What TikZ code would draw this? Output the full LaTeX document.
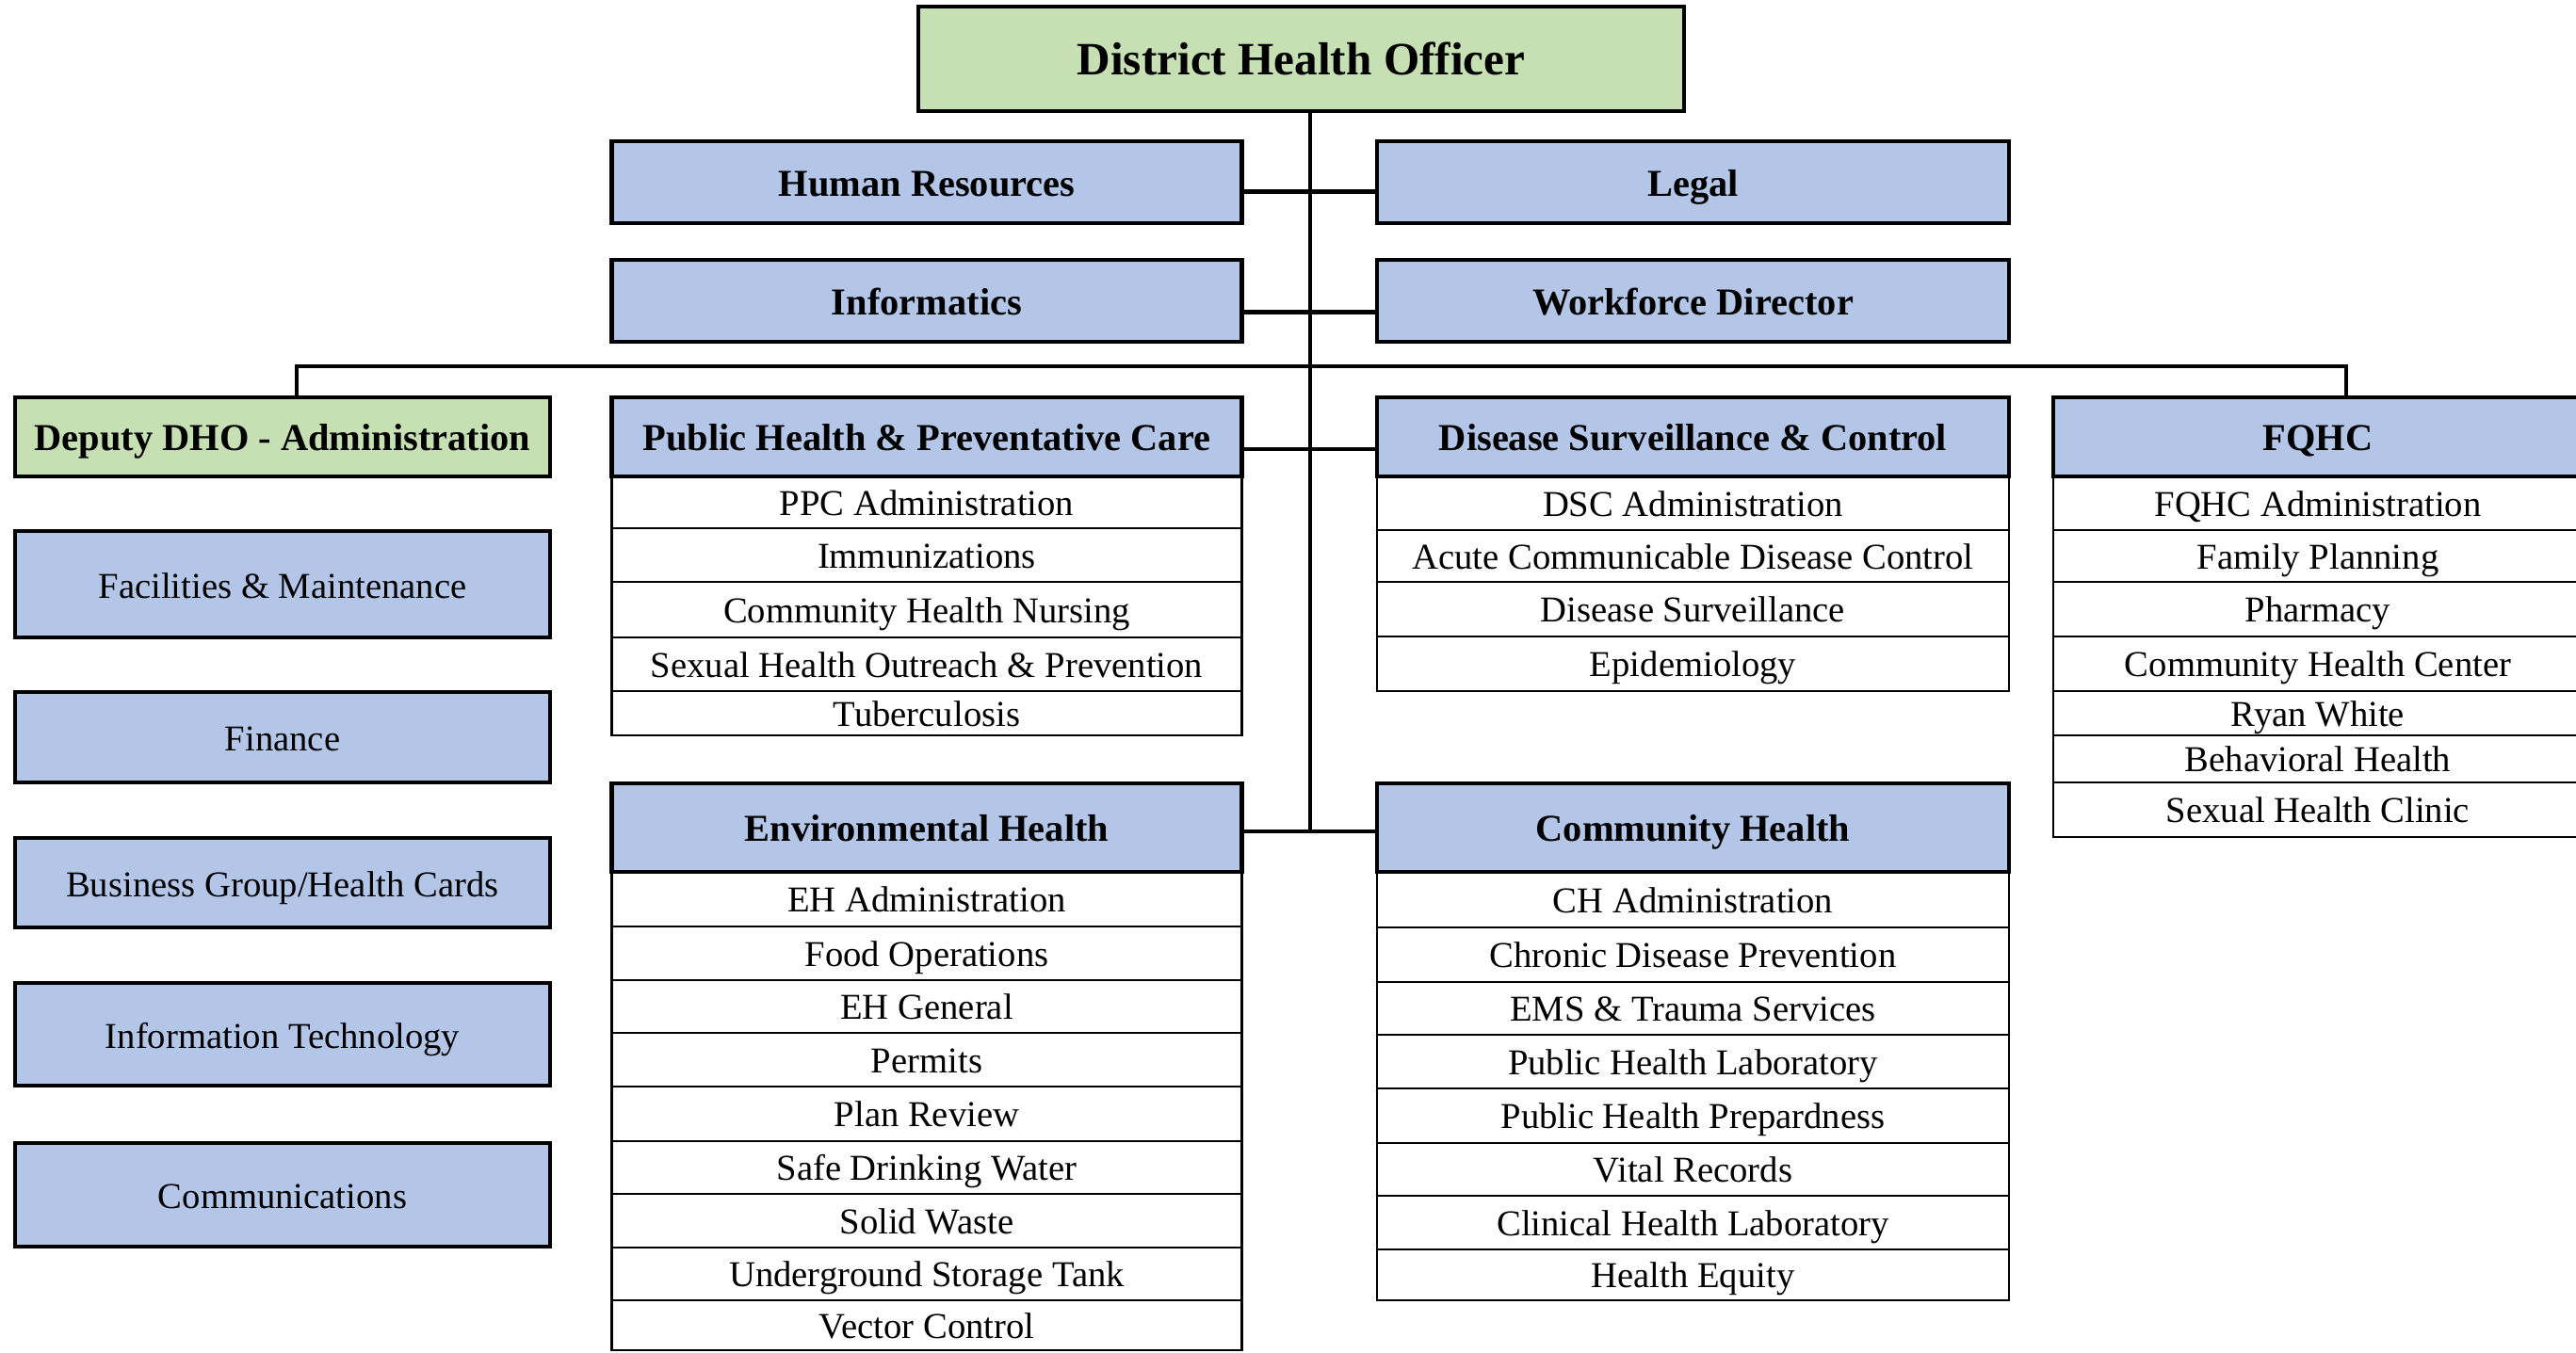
\documentclass[tikz,border=0pt]{standalone}
\usepackage{fontspec}
\setmainfont{Liberation Serif}
\usetikzlibrary{positioning}
\definecolor{boxblue}{RGB}{180,198,231}
\definecolor{boxgreen}{RGB}{198,224,180}
\tikzset{
  unit/.style={draw, line width=1.4pt, fill=boxblue, inner sep=0pt, outer sep=0pt,
    text height=0.85em, text depth=0pt, font=\fontsize{11}{13}\selectfont},
  head/.style={unit, font=\bfseries\fontsize{11.5}{13}\selectfont},
  row/.style={draw, line width=0.6pt, inner sep=0pt, outer sep=0pt,
    text height=0.78em, text depth=0pt, font=\fontsize{11}{13}\selectfont},
  link/.style={line width=1.2pt}
}

\begin{document}
\begin{tikzpicture}
        \useasboundingbox (0,0) rectangle (27.35,-14.37);
        % top of the chart
        \node[head, fill=boxgreen, minimum width=8.13cm, minimum height=1.11cm, text height=0.95em,
          font=\bfseries\fontsize{14}{16}\selectfont] (dho) at (13.815,-0.625) {District Health Officer};
        \node[head, minimum width=6.69cm, minimum height=0.87cm] (hr) at (9.84,-1.935) {Human Resources};
        \node[head, minimum width=6.71cm, minimum height=0.87cm] (legal) at (17.975,-1.935) {Legal};
        \node[head, minimum width=6.69cm, minimum height=0.87cm] (inf) at (9.84,-3.195) {Informatics};
        \node[head, minimum width=6.71cm, minimum height=0.87cm] (wfd) at (17.975,-3.195) {Workforce Director};
        % divisions
        \node[head, fill=boxgreen, minimum width=5.68cm, minimum height=0.84cm] (dep) at (3.00,-4.64) {Deputy DHO - Administration};
        \node[head, minimum width=6.69cm, minimum height=0.84cm, alias=ph0] (ph) at (9.84,-4.64) {Public Health \& Preventative Care};
        \node[head, minimum width=6.71cm, minimum height=0.84cm, alias=dsc0] (dsc) at (17.975,-4.64) {Disease Surveillance \& Control};
        \node[head, minimum width=5.62cm, minimum height=0.84cm, alias=fq0] (fq) at (24.61,-4.64) {FQHC};
        \node[head, minimum width=6.69cm, minimum height=0.94cm, alias=eh0] (eh) at (9.84,-8.79) {Environmental Health};
        \node[head, minimum width=6.71cm, minimum height=0.94cm, alias=ch0] (ch) at (17.975,-8.79) {Community Health};
        % administration column
        \node[unit, minimum width=5.68cm, minimum height=1.13cm] (fac) at (3.00,-6.205) {Facilities \& Maintenance};
        \node[unit, minimum width=5.68cm, minimum height=0.96cm] (fin) at (3.00,-7.83) {Finance};
        \node[unit, minimum width=5.68cm, minimum height=0.95cm] (bus) at (3.00,-9.375) {Business Group/Health Cards};
        \node[unit, minimum width=5.68cm, minimum height=1.09cm] (it) at (3.00,-10.985) {Information Technology};
        \node[unit, minimum width=5.68cm, minimum height=1.10cm] (com) at (3.00,-12.69) {Communications};
        % programs under each division
        \foreach \t/\h [count=\i, remember=\i as \j (initially 0)] in {PPC Administration/0.55,
            Immunizations/0.57, Community Health Nursing/0.59,
            Sexual Health Outreach \& Prevention/0.57, Tuberculosis/0.47}
          \node[row, minimum width=6.69cm, minimum height=\h cm, below=0pt of ph\j] (ph\i) {\t};
        \foreach \t/\h [count=\i, remember=\i as \j (initially 0)] in {DSC Administration/0.57,
            Acute Communicable Disease Control/0.55, Disease Surveillance/0.58, Epidemiology/0.58}
          \node[row, minimum width=6.71cm, minimum height=\h cm, below=0pt of dsc\j] (dsc\i) {\t};
        \foreach \t/\h [count=\i, remember=\i as \j (initially 0)] in {FQHC Administration/0.57,
            Family Planning/0.55, Pharmacy/0.58, Community Health Center/0.58,
            Ryan White/0.47, Behavioral Health/0.50, Sexual Health Clinic/0.58}
          \node[row, minimum width=5.62cm, minimum height=\h cm, below=0pt of fq\j] (fq\i) {\t};
        \foreach \t/\h [count=\i, remember=\i as \j (initially 0)] in {EH Administration/0.58,
            Food Operations/0.57, EH General/0.56, Permits/0.57, Plan Review/0.58,
            Safe Drinking Water/0.56, Solid Waste/0.57, Underground Storage Tank/0.56,
            Vector Control/0.53}
          \node[row, minimum width=6.69cm, minimum height=\h cm, below=0pt of eh\j] (eh\i) {\t};
        \foreach \t/\h [count=\i, remember=\i as \j (initially 0)] in {CH Administration/0.59,
            Chronic Disease Prevention/0.58, EMS \& Trauma Services/0.56,
            Public Health Laboratory/0.57, Public Health Prepardness/0.58, Vital Records/0.56,
            Clinical Health Laboratory/0.57, Health Equity/0.54}
          \node[row, minimum width=6.71cm, minimum height=\h cm, below=0pt of ch\j] (ch\i) {\t};
        % lines
        \coordinate (mid) at (13.91,0);
        \coordinate (busl) at (3.15,-3.89);
        \coordinate (busr) at (24.91,-3.89);
        \draw[link] (dho.south -| mid) -- ([yshift=-0.4mm]eh.east -| mid);
        \draw[link] ([yshift=-1mm]hr.east) -- ([yshift=-1mm]legal.west);
        \draw[link] ([yshift=-1.2mm]inf.east) -- ([yshift=-1.2mm]wfd.west);
        \draw[link] ([yshift=-1.3mm]ph.east) -- ([yshift=-1.3mm]dsc.west);
        \draw[link] ([yshift=-0.4mm]eh.east) -- ([yshift=-0.4mm]ch.west);
        \draw[link] (dep.north -| busl) -- (busl) -- (busr) -- (fq.north -| busr);
      \end{tikzpicture}
\end{document}
